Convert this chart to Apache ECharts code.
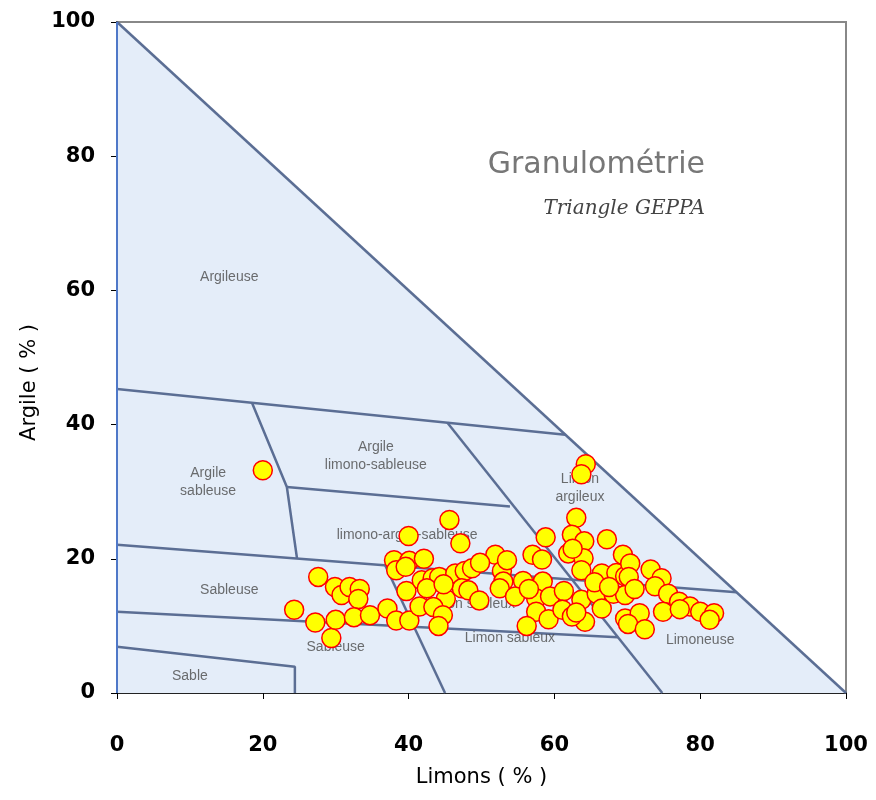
<!DOCTYPE html>
<html><head><meta charset="utf-8">
<script src="https://cdn.jsdelivr.net/npm/echarts@6/dist/echarts.min.js"></script>
<style>html,body{margin:0;padding:0;background:#fff}#c{width:876px;height:800px}</style>
</head><body><div id="c"></div>
<script>
// Axis ticks
const xTicks = [0, 20, 40, 60, 80, 100];
const yTicks = [0, 20, 40, 60, 80, 100];
const xName = 'Limons ( % )';
const yName = 'Argile ( % )';
const titleMain = 'Granulométrie';
const titleSub = 'Triangle GEPPA';

// Samples: [Limons %, Argile %]
const samples = [
  [20.0,33.2],[24.3,12.4],[27.6,17.3],[27.2,10.5],[29.4,8.2],[30.0,10.9],[29.9,15.8],[30.8,14.6],
  [31.9,15.8],[33.3,15.5],[33.1,14.0],[32.5,11.3],[34.7,11.6],[37.1,12.6],[38.3,10.8],[40.1,10.8],
  [41.5,12.9],[38.0,19.8],[38.3,18.3],[40.1,19.7],[42.1,20.0],[40.0,23.4],[39.7,15.2],[41.8,16.8],
  [39.6,18.8],[45.6,25.8],[47.1,22.3],[51.9,20.6],[43.3,17.1],[44.2,17.3],[46.4,17.8],[47.7,18.2],
  [48.7,18.6],[49.8,19.4],[52.8,18.2],[53.0,16.6],[52.5,15.6],[42.5,15.6],[47.3,15.6],[48.2,15.3],
  [49.7,13.8],[45.1,14.0],[43.4,12.8],[44.7,11.6],[44.1,10.0],[58.8,23.2],[57.0,20.6],[58.3,19.9],
  [55.7,16.7],[54.6,14.4],[58.4,16.6],[57.5,14.1],[59.4,14.4],[57.5,12.1],[59.2,11.0],[56.2,10.0],
  [64.3,34.1],[63.7,32.6],[63.0,26.1],[62.4,23.6],[64.1,22.6],[67.2,22.9],[61.9,20.8],[64.0,20.1],
  [63.7,18.3],[69.4,20.6],[66.5,17.8],[68.5,17.9],[69.7,17.4],[61.3,15.2],[63.7,13.9],[65.8,14.8],
  [66.5,12.6],[68.1,14.8],[61.1,12.4],[64.2,10.6],[62.4,11.4],[69.7,14.6],[69.7,11.1],[70.4,19.3],
  [70.2,17.3],[73.2,18.4],[74.7,17.1],[73.8,15.9],[75.6,14.8],[77.1,13.6],[78.6,12.9],[80.0,12.1],
  [81.9,11.9],[81.3,10.9],[74.9,12.1],[77.2,12.5],[71.7,11.9],[70.1,10.3],[72.4,9.5],[44.8,16.2],
  [56.5,15.5],[62.5,21.5],[65.5,16.5],[67.5,15.8],[71.0,15.5],[63.0,12.0],[53.5,19.8]
];

// Triangle outline and class boundaries (data coordinates)
const triangleEdge = [[0,100],[100,0]];
const zoneLines = [
  [[0,45.3],[61.5,38.5]],
  [[18.5,43.3],[23.3,30.7],[24.7,20.0]],
  [[23.3,30.7],[53.9,27.8]],
  [[0,22.1],[85,15]],
  [[0,12.1],[68.7,8.3]],
  [[36.8,19.0],[45,0]],
  [[45.3,40.3],[74.8,0]],
  [[0,6.9],[24.4,3.9],[24.4,0]]
];
const zoneNames = ['Argileuse','Argile\nsableuse','Argile\nlimono-sableuse','limono-argilo-sableuse','Limon\nargileux',
  'Sableuse','Limon sableux','Sableuse','Sable','Limon sableux','Limoneuse'];
const zoneX = [15.4,12.5,35.5,39.8,63.5,15.4,48.4,30.0,10.0,53.9,80.0];
const zoneY = [62.0,31.4,35.3,23.5,30.6,15.4,13.3,6.9,2.5,8.2,7.9];

const chart = echarts.init(document.getElementById('c'), null, {renderer:'canvas'});
const lineColor = '#5b6e94';
const tickFont = {fontFamily:'DejaVu Sans', fontWeight:'bold', fontSize:21, color:'#000'};

const series = [
  {
    type:'line', data: triangleEdge, symbol:'none', z:1,
    lineStyle:{color:lineColor, width:2.5},
    areaStyle:{color:'#e4edf9', opacity:1}
  }
];
zoneLines.forEach(pl => series.push({
  type:'line', data: pl, symbol:'none', z:2, silent:true,
  lineStyle:{color:lineColor, width:2.5}
}));
series.push({
  type:'line', data:[[0,0],[0,100]], symbol:'none', z:2,
  lineStyle:{color:'#4f78c8', width:2}
});
series.push({
  type:'scatter', symbolSize:0, z:3, silent:true,
  data: zoneNames.map((n,i)=>({name:n, value:[zoneX[i], zoneY[i]]})),
  label:{show:true, position:'inside', formatter:'{b}', color:'#4a4a4a',
    fontFamily:'Liberation Sans', fontSize:14, lineHeight:18}
});
series.push({
  type:'scatter', data: samples, symbolSize:19, z:5,
  itemStyle:{color:'#ffff00', borderColor:'#ff0000', borderWidth:1.5, opacity:1}
});

chart.setOption({
  animation:false,
  grid:{left:117, right:30, top:22, bottom:107, show:true, borderColor:'#888', borderWidth:2, backgroundColor:'transparent'},
  xAxis:{type:'value', min:xTicks[0], max:xTicks[xTicks.length-1], interval:20,
    name:xName, nameLocation:'middle', nameGap:74,
    nameTextStyle:{fontFamily:'DejaVu Sans', fontSize:21, color:'#000'},
    axisLine:{show:true, onZero:false, lineStyle:{color:'#000', width:1.5}},
    axisTick:{show:true, inside:false, length:6, lineStyle:{color:'#000'}},
    axisLabel:Object.assign({margin:42}, tickFont),
    splitLine:{show:false}},
  yAxis:{type:'value', min:yTicks[0], max:yTicks[yTicks.length-1], interval:20,
    name:yName, nameLocation:'middle', nameGap:76,
    nameTextStyle:{fontFamily:'DejaVu Sans', fontSize:21, color:'#000', padding:[0,50,0,0]},
    axisLine:{show:true, onZero:false, lineStyle:{color:'#000', width:1.5}},
    axisTick:{show:true, inside:false, length:6, lineStyle:{color:'#000'}},
    axisLabel:Object.assign({margin:22}, tickFont),
    splitLine:{show:false}},
  graphic:[
    {type:'text', right:876-705, top:150, z:10,
      style:{text:titleMain, fontFamily:'DejaVu Sans', fontSize:30, fill:'#777'}},
    {type:'text', right:876-705, top:199, z:10,
      style:{text:titleSub, fontFamily:'DejaVu Serif', fontStyle:'italic', fontSize:20, fill:'#444'}}
  ],
  series: series
});
</script>
</body></html>
